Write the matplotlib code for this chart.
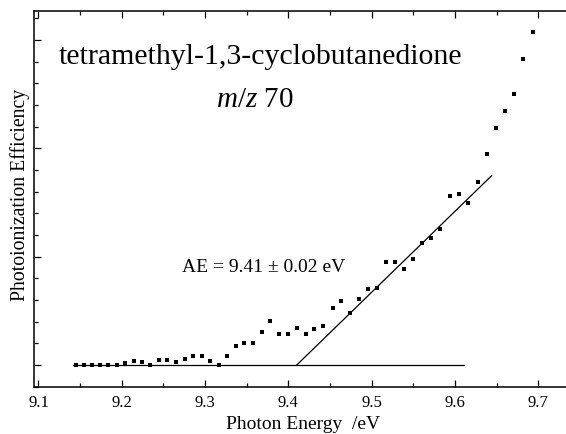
import matplotlib
matplotlib.use('Agg')
from matplotlib import pyplot as plt
from matplotlib.ticker import MultipleLocator, NullFormatter

plt.rcParams['font.family'] = ['Liberation Serif', 'DejaVu Serif']
plt.rcParams['mathtext.fontset'] = 'custom'
plt.rcParams['mathtext.rm'] = 'Liberation Serif'
plt.rcParams['mathtext.it'] = 'Liberation Serif:italic'

# Dados (energia em eV, eficiência em unidades arbitrárias)
energy = [9.1447, 9.1543, 9.1642, 9.1742, 9.1838, 9.1942, 9.2042, 9.2143, 9.2242, 9.2342,
          9.2443, 9.2546, 9.2651, 9.2755, 9.2855, 9.2959, 9.3062, 9.3167, 9.3267, 9.3371,
          9.3470, 9.3571, 9.3679, 9.3779, 9.3887, 9.3995, 9.4100, 9.4208, 9.4307, 9.4419,
          9.4532, 9.4635, 9.4740, 9.4848, 9.4956, 9.5060, 9.5172, 9.5280, 9.5384, 9.5496,
          9.5604, 9.5708, 9.5824, 9.5940, 9.6052, 9.6160, 9.6273, 9.6381, 9.6497, 9.6605,
          9.6713, 9.6821, 9.6933]
efficiency = [0.0, 0.0, 0.0, 0.0, 0.0, 0.0, 0.021, 0.040, 0.030, 0.0,
              0.046, 0.046, 0.025, 0.058, 0.086, 0.086, 0.040, 0.0, 0.080, 0.173,
              0.206, 0.206, 0.302, 0.406, 0.283, 0.283, 0.339, 0.286, 0.332, 0.363,
              0.524, 0.594, 0.477, 0.609, 0.702, 0.714, 0.948, 0.948, 0.889, 0.976,
              1.124, 1.175, 1.256, 1.560, 1.579, 1.499, 1.690, 1.948, 2.191, 2.345,
              2.502, 2.825, 3.072]

# Linha de base e ajuste linear (limiar AE)
base_x = [9.1418, 9.6112]
base_y = [0.0, 0.0]
fit_x = [9.41, 9.6440]
fit_y = [0.0, 1.748]

fig = plt.figure(figsize=(5.66, 4.34), dpi=100)
ax = fig.add_axes([34 / 566, 47.3 / 434, 540 / 566, 375.7 / 434])

ax.plot(energy, efficiency, 's', color='black', markersize=3.1, markeredgewidth=0)
ax.plot(base_x, base_y, '-', color='black', lw=0.9)
ax.plot(fit_x, fit_y, '-', color='black', lw=0.9)

ax.set_xlim(9.0946, 9.7429)
ax.set_ylim(-0.2, 3.269)

ax.xaxis.set_major_locator(MultipleLocator(0.1))
ax.xaxis.set_minor_locator(MultipleLocator(0.05))
ax.yaxis.set_major_locator(MultipleLocator(1.0))
ax.yaxis.set_minor_locator(MultipleLocator(0.2))
ax.yaxis.set_major_formatter(NullFormatter())
ax.xaxis.set_major_formatter(plt.FuncFormatter(lambda v, p: f'{v:.1f}'))

ax.tick_params(which='both', direction='in', top=True, right=False, width=0.9)
ax.tick_params(which='major', length=5, labelsize=12, pad=6)
ax.tick_params(which='minor', length=3)
for s in ax.spines.values():
    s.set_linewidth(1.1)
ax.spines['right'].set_visible(False)

fig.text(260 / 566, 1 - 57 / 434, 'tetramethyl-1,3-cyclobutanedione', fontsize=21.5,
         ha='center', va='center')
fig.text(255 / 566, 1 - 100 / 434, r'$m/z$ 70', fontsize=21, ha='center', va='center')
fig.text(264 / 566, 1 - 267 / 434, 'AE = 9.41 ± 0.02 eV', fontsize=14, ha='center', va='center')

fig.text(303 / 566, 1 / 434, 'Photon Energy  /eV', fontsize=14, ha='center', va='bottom')
fig.text(20 / 566, 1 - 195 / 434, 'Photoionization Efficiency', fontsize=14.2,
         ha='center', va='center', rotation=90)

plt.savefig('out.png', dpi=100)
